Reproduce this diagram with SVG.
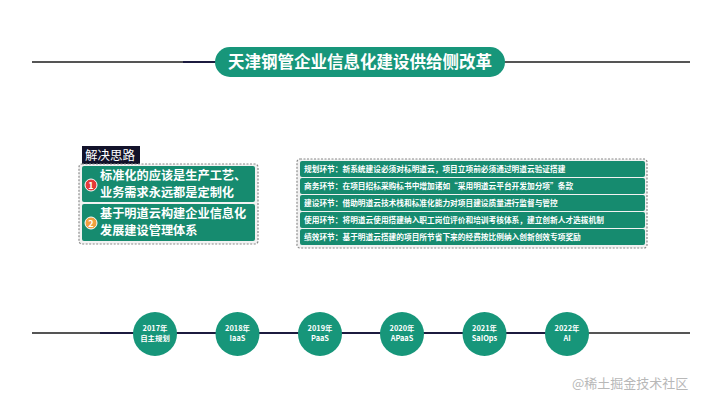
<svg xmlns="http://www.w3.org/2000/svg" width="720" height="405" viewBox="0 0 720 405">
<style>
.t{font-family:"Noto Sans CJK SC","Liberation Sans",sans-serif;}
.bar{fill:#168b6f;}
.dash{fill:#f2f2f2;stroke:#8a8a8a;stroke-width:1.2;stroke-dasharray:2 1.5;}
.rt{font-size:7.7px;fill:#fff;font-weight:bold;}
.ct{font-size:7.4px;fill:#fff;font-weight:bold;text-anchor:middle;}
.lt{font-size:12.2px;fill:#fff;font-weight:bold;}
.gray{stroke:#555;stroke-width:2;}
.navy{stroke:#1c1b3f;stroke-width:2;}
</style>
<rect width="720" height="405" fill="#fff"/>
<g id="title">
<line class="gray" x1="32" y1="62" x2="183" y2="62"/>
<line class="navy" x1="183" y1="62" x2="220" y2="62"/>
<line class="gray" x1="500" y1="62" x2="690" y2="62"/>
<rect x="215" y="47" width="290" height="30" rx="15" fill="#17967a"/>
<text class="t" x="360" y="68" font-size="16.5" font-weight="bold" fill="#fff" text-anchor="middle">天津钢管企业信息化建设供给侧改革</text>
</g>
<g id="left">
<rect x="82" y="146" width="58" height="18" fill="#12122a"/>
<text class="t" x="85" y="160" font-size="12.5" fill="#fff">解决思路</text>
<rect class="dash" x="79" y="164" width="179" height="80" rx="3"/>
<rect class="bar" x="82" y="166" width="173" height="36" rx="2"/>
<rect class="bar" x="82" y="204" width="173" height="37" rx="2"/>
<circle cx="91" cy="185" r="6" fill="#e23a3a" stroke="#fff" stroke-width="1"/>
<text class="t" x="91" y="188.5" font-size="9" font-weight="bold" fill="#fff" text-anchor="middle">1</text>
<circle cx="91" cy="223" r="6" fill="#f0a040" stroke="#fff" stroke-width="1"/>
<text class="t" x="91" y="226.5" font-size="9" font-weight="bold" fill="#fff" text-anchor="middle">2</text>
<text class="t lt" x="100" y="180">标准化的应该是生产工艺、</text>
<text class="t lt" x="100" y="197">业务需求永远都是定制化</text>
<text class="t lt" x="100" y="218">基于明道云构建企业信息化</text>
<text class="t lt" x="100" y="235">发展建设管理体系</text>
</g>
<g id="right">
<rect class="dash" x="297" y="159" width="350" height="89" rx="3"/>
<rect class="bar" x="300" y="161" width="345" height="16" rx="2"/>
<rect class="bar" x="300" y="178" width="345" height="16" rx="2"/>
<rect class="bar" x="300" y="195" width="345" height="16" rx="2"/>
<rect class="bar" x="300" y="212" width="345" height="16" rx="2"/>
<rect class="bar" x="300" y="229" width="345" height="16" rx="2"/>
<text class="t rt" x="304" y="172">规划环节：新系统建设必须对标明道云，项目立项前必须通过明道云验证搭建</text>
<text class="t rt" x="304" y="189">商务环节：在项目招标采购标书中增加诸如“采用明道云平台开发加分项”条款</text>
<text class="t rt" x="304" y="206">建设环节：借助明道云技术栈和标准化能力对项目建设质量进行监督与管控</text>
<text class="t rt" x="304" y="223">使用环节：将明道云使用搭建纳入职工岗位评价和培训考核体系，建立创新人才选拔机制</text>
<text class="t rt" x="304" y="240">绩效环节：基于明道云搭建的项目所节省下来的经费按比例纳入创新创效专项奖励</text>
</g>
<g id="connectors">
<line class="gray" x1="32" y1="333" x2="100" y2="333"/>
<line class="navy" x1="100" y1="333" x2="567" y2="333"/>
<line class="gray" x1="567" y1="333" x2="690" y2="333"/>
</g>
<g id="n2017"><circle cx="155" cy="334" r="22" fill="#17967a"/><text class="t ct" x="155" y="331">2017年</text><text class="t ct" x="155" y="341">自主规划</text></g>
<g id="n2018"><circle cx="237.5" cy="334" r="22" fill="#17967a"/><text class="t ct" x="237.5" y="331">2018年</text><text class="t ct" x="237.5" y="341">IaaS</text></g>
<g id="n2019"><circle cx="320" cy="334" r="22" fill="#17967a"/><text class="t ct" x="320" y="331">2019年</text><text class="t ct" x="320" y="341">PaaS</text></g>
<g id="n2020"><circle cx="402" cy="334" r="22" fill="#17967a"/><text class="t ct" x="402" y="331">2020年</text><text class="t ct" x="402" y="341">APaaS</text></g>
<g id="n2021"><circle cx="484.5" cy="334" r="22" fill="#17967a"/><text class="t ct" x="484.5" y="331">2021年</text><text class="t ct" x="484.5" y="341">SaIOps</text></g>
<g id="n2022"><circle cx="567" cy="334" r="22" fill="#17967a"/><text class="t ct" x="567" y="331">2022年</text><text class="t ct" x="567" y="341">AI</text></g>
<text class="t" x="572" y="388" font-size="13" fill="#b8b8b8">@稀土掘金技术社区</text>
</svg>
